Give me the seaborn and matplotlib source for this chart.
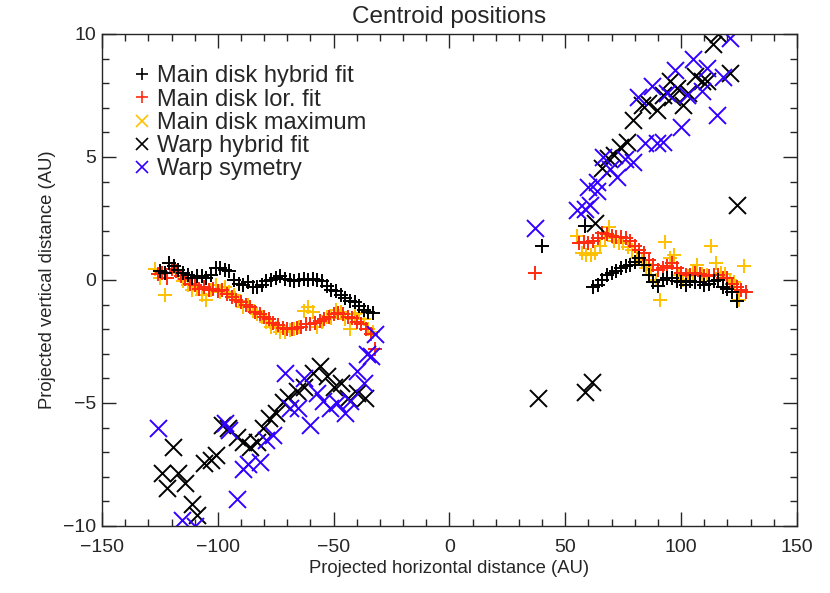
import numpy as np
import matplotlib
matplotlib.use("Agg")
import matplotlib.pyplot as plt
from matplotlib.lines import Line2D
from matplotlib.ticker import MultipleLocator
import seaborn as sns

# Main disk hybrid fit (black +)
md_hyb_x = [-125, -123, -121, -119, -117, -115, -113, -111, -109, -107, -105, -103, -101, -99, -97, -95,
            -93, -91, -89, -87, -85, -83, -81, -79, -77, -75, -73, -71, -69, -67, -65, -63, -61, -59,
            -57, -55, -53, -51, -49, -47, -45, -43, -41, -39, -37, -35, -33,
            40, 58.5, 62, 64, 66, 68, 70, 72, 74, 76, 78, 80, 82, 84, 86, 88, 90, 92, 94, 96, 98, 100,
            102, 104, 106, 108, 110, 112, 114, 116, 118, 120, 122, 124]
md_hyb_y = [0.35, 0.3, 0.7, 0.55, 0.4, 0.3, 0.2, 0.1, 0.15, 0.15, 0.1, 0.2, 0.5, 0.5, 0.4, 0.35,
            0.0, -0.15, -0.2, -0.1, -0.3, -0.3, -0.2, -0.05, 0.0, 0.1, 0.15, 0.05, 0.0, -0.05, 0.0, 0.05,
            0.0, 0.05, 0.0, -0.05, -0.25, -0.4, -0.45, -0.6, -0.75, -0.85, -0.9, -1.05, -1.2, -1.3, -1.35,
            1.4, 2.2, -0.3, -0.2, 0.0, 0.2, 0.3, 0.35, 0.5, 0.55, 0.6, 0.75, 0.9, 0.6, 0.2, -0.1, -0.25,
            0.0, 0.1, 0.1, -0.05, -0.1, -0.2, -0.05, -0.1, -0.1, -0.2, -0.15, -0.05, 0.0, -0.3, -0.35,
            -0.5, -0.85]

# Main disk lorentzian fit (red +)
md_lor_x = [-126, -124, -122, -120, -118, -116, -114, -112, -110, -108, -106, -104, -102, -100, -98,
            -96, -94, -92, -90, -88, -86, -84, -82, -80, -78, -76, -74, -72, -70, -68, -66, -64, -62,
            -60, -58, -56, -54, -52, -50, -48, -46, -44, -42, -40, -38, -36, -34, -32,
            37, 56, 58, 60, 62, 64, 66, 68, 70, 72, 74, 76, 78, 80, 82, 84, 86, 88, 90, 92, 94, 96, 98,
            100, 102, 104, 106, 108, 110, 112, 114, 116, 118, 120, 122, 124, 126, 128]
md_lor_y = [0.25, 0.3, 0.1, 0.45, 0.35, 0.15, 0.05, -0.15, -0.2, -0.35, -0.3, -0.4, -0.35, -0.45, -0.4,
            -0.55, -0.7, -0.8, -0.9, -1.0, -1.1, -1.3, -1.4, -1.5, -1.6, -1.75, -1.85, -1.95, -2.0, -2.0,
            -1.95, -1.9, -1.8, -1.8, -1.75, -1.65, -1.6, -1.5, -1.4, -1.35, -1.4, -1.5, -1.55, -1.7, -1.8,
            -2.0, -2.2, -2.8,
            0.3, 1.5, 1.55, 1.5, 1.6, 1.7, 1.9, 1.85, 1.8, 1.75, 1.75, 1.7, 1.6, 1.4, 1.2, 1.1, 0.8, 0.6,
            0.4, 0.5, 0.55, 0.7, 0.5, 0.3, 0.2, 0.2, 0.3, 0.25, 0.15, 0.15, 0.2, 0.2, 0.1, 0.1, -0.15,
            -0.3, -0.4, -0.5]

# Main disk maximum (orange +)
md_max_x = [-127, -125, -123, -121, -119, -117, -115, -113, -111, -109, -107, -105, -103, -101, -99,
            -97, -95, -93, -91, -89, -87, -85, -83, -81, -79, -77, -75, -73, -71, -69, -67, -65, -63,
            -61, -59, -57, -55, -53, -51, -49, -47, -45, -43, -41, -39, -37, -35, -33,
            55, 57, 59, 61, 63, 65, 67, 69, 71, 73, 75, 77, 79, 81, 83, 85, 87, 89, 91, 93, 95, 97, 99,
            101, 103, 105, 107, 109, 111, 113, 115, 117, 119, 121, 123, 125, 127]
md_max_y = [0.45, 0.1, -0.6, 0.7, 0.55, 0.3, -0.05, -0.2, -0.4, -0.3, -0.6, -0.8, -0.4, -0.2, -0.5,
            -0.3, -0.5, -0.6, -0.85, -1.1, -1.0, -1.25, -1.4, -1.5, -1.7, -1.9, -1.95, -2.1, -2.1, -2.05,
            -2.0, -1.9, -1.25, -1.1, -1.3, -1.9, -1.7, -1.5, -1.55, -1.2, -1.3, -1.6, -2.0, -1.4, -1.35,
            -1.6, -2.0, -2.1,
            1.8, 1.1, 1.0, 1.0, 1.1, 1.4, 1.7, 2.15, 1.6, 1.5, 1.5, 1.35, 1.2, 0.9, 0.8, 0.5, 0.4, 0.0,
            -0.8, 1.55, 0.9, 1.0, 0.2, 0.0, 0.15, 0.3, 0.6, 0.25, 0.2, 1.4, 0.7, 0.3, 0.25, 0.0, -0.1,
            -0.8, 0.55]

# Warp hybrid fit (black x)
wp_hyb_x = [-124, -122, -119.3, -117, -114, -111, -109, -106, -103, -101, -98, -95.5, -91.7, -89, -86,
            -83, -80.4, -78, -75, -72, -69.6, -65.8, -63, -58.9, -56, -53, -50, -47, -43.6, -40, -36.5,
            38, 58.5, 61.5, 124, 62.8, 65.8, 68.4, 71, 73.6, 76.6, 79.2, 83, 85.7, 89.5, 92, 95, 96, 98,
            100.7, 103, 106, 109, 111, 113.8, 116, 121]
wp_hyb_y = [-7.85, -8.45, -6.8, -7.85, -8.25, -9.1, -9.55, -7.45, -7.3, -7.1, -5.9, -6.0, -6.4, -6.6,
            -6.8, -6.6, -6.0, -5.6, -5.4, -4.95, -4.75, -4.5, -4.35, -3.8, -3.5, -3.9, -4.35, -4.2, -4.8,
            -4.6, -4.8,
            -4.8, -4.55, -4.15, 3.05, 2.3, 4.55, 4.95, 5.1, 5.4, 5.6, 6.5, 7.1, 7.2, 6.9, 7.5, 8.1, 7.45,
            7.8, 7.1, 7.6, 8.3, 8.1, 8.1, 9.6, 10.0, 8.4]

# Warp symmetry (blue x)
wp_sym_x = [-125.8, -115.5, -110, -97, -95, -91.7, -89, -87, -82, -79, -76, -71, -69, -65.4, -63, -60,
            -57, -54.5, -51.6, -48.6, -45, -43, -40, -37, -35.6, -34, -32,
            37, 55, 58.5, 60.6, 63.6, 59.8, 63.6, 66.3, 69.3, 72.3, 75.7, 79.2, 84.4, 89.5, 92, 100,
            81.4, 87.5, 94, 97.3, 102.4, 105, 109, 111, 115.5, 118, 121]
wp_sym_y = [-6.0, -9.75, -10.0, -5.8, -6.1, -8.9, -7.7, -7.5, -7.4, -6.5, -6.3, -3.8, -5.2, -5.2, -4.0,
            -5.9, -4.6, -4.9, -5.2, -5.0, -5.4, -4.9, -3.7, -4.2, -3.0, -3.1, -2.2,
            2.1, 2.85, 2.9, 3.05, 3.6, 3.8, 4.0, 5.0, 4.5, 4.2, 4.9, 4.8, 5.55, 5.55, 5.6, 6.2, 7.45,
            7.9, 7.6, 8.55, 7.5, 9.0, 7.7, 8.6, 6.7, 8.25, 9.85]

labels = ["Main disk hybrid fit", "Main disk lor. fit", "Main disk maximum",
          "Warp hybrid fit", "Warp symetry"]

RED = "#ff2a10"
ORANGE = "#ffc000"
BLUE = "#3300ff"

sns.set_style("ticks")
plt.rcParams["font.family"] = ["Liberation Sans", "DejaVu Sans"]

fig = plt.figure(figsize=(8.3, 5.93), dpi=100)
ax = fig.add_axes([0.1229, 0.1130, 0.8373, 0.8297])

kw = dict(s=110, linewidth=1.4, legend=False, ax=ax, clip_on=True)
sns.scatterplot(x=md_max_x, y=md_max_y, marker="+", color=ORANGE, **kw)
sns.scatterplot(x=md_lor_x, y=md_lor_y, marker="+", color=RED, **kw)
sns.scatterplot(x=md_hyb_x, y=md_hyb_y, marker="+", color="black", **kw)
kw["s"] = 150
sns.scatterplot(x=wp_hyb_x, y=wp_hyb_y, marker="x", color="black", **kw)
sns.scatterplot(x=wp_sym_x, y=wp_sym_y, marker="x", color=BLUE, **kw)

ax.set_xlim(-150, 150)
ax.set_ylim(-10, 10)
ax.xaxis.set_major_locator(MultipleLocator(50))
ax.xaxis.set_minor_locator(MultipleLocator(10))
ax.yaxis.set_major_locator(MultipleLocator(5))
ax.yaxis.set_minor_locator(MultipleLocator(1))
ax.tick_params(which="both", direction="in", top=True, right=True, labelsize=14, width=1)
ax.tick_params(which="major", length=10)
ax.tick_params(which="minor", length=5)
ax.tick_params(axis="x", pad=9.5)
ax.tick_params(axis="y", pad=4)
for sp in ax.spines.values():
    sp.set_linewidth(1)

ax.set_title("Centroid positions", fontsize=17.5, pad=8)
ax.set_xlabel("Projected horizontal distance (AU)", fontsize=13.3, labelpad=2.5)
ax.set_ylabel("Projected vertical distance (AU)", fontsize=13.3, labelpad=5)

handles = [
    Line2D([], [], marker="+", color="black", ls="none", ms=9, mew=1.2),
    Line2D([], [], marker="+", color=RED, ls="none", ms=9, mew=1.2),
    Line2D([], [], marker="x", color=ORANGE, ls="none", ms=8, mew=1.2),
    Line2D([], [], marker="x", color="black", ls="none", ms=8, mew=1.2),
    Line2D([], [], marker="x", color=BLUE, ls="none", ms=8, mew=1.2),
]
ax.legend(handles, labels, loc="upper left", bbox_to_anchor=(0.028, 0.96), frameon=False,
          fontsize=17, handlelength=0.7, handletextpad=0.3, labelspacing=0.05, borderpad=0)

fig.savefig("out.png", dpi=100)
